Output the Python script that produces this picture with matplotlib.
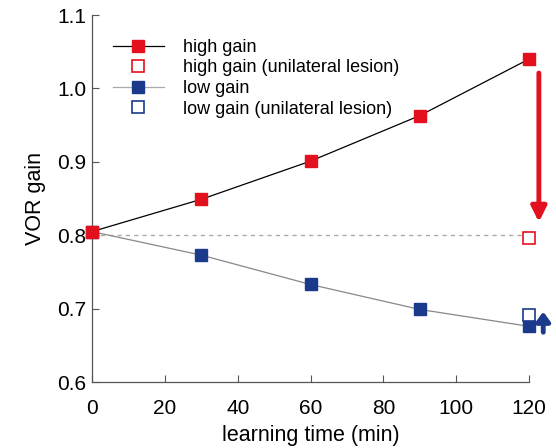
import numpy as np
import matplotlib.pyplot as plt
from matplotlib.lines import Line2D

plt.rcParams['font.family'] = ['Liberation Sans', 'DejaVu Sans']

# data
time = [0, 30, 60, 90, 120]
high_gain = [0.805, 0.849, 0.901, 0.963, 1.040]
low_gain = [0.805, 0.773, 0.733, 0.699, 0.676]
lesion_time = [120]
high_lesion = [0.796]
low_lesion = [0.692]
baseline = 0.8

red = '#e3101e'
blue = '#1b3a8c'
axcol = '#555555'
ms = 8.5

fig = plt.figure(figsize=(5.56, 4.48), dpi=100)
ax = fig.add_axes([0.1655, 0.147, 0.786, 0.8195])

ax.plot([0, 120], [baseline, baseline], color='#aaaaaa', lw=1, ls=(0, (3, 3)), zorder=1)
ax.plot(time, low_gain, color='#888888', lw=0.9, marker='s', ms=ms,
        mfc=blue, mec=blue, zorder=3, clip_on=False)
ax.plot(time, high_gain, color='black', lw=0.9, marker='s', ms=ms,
        mfc=red, mec=red, zorder=4, clip_on=False)
ax.plot(lesion_time, high_lesion, ls='none', marker='s', ms=ms, mfc='white',
        mec=red, mew=1.2, clip_on=False, zorder=5)
ax.plot(lesion_time, low_lesion, ls='none', marker='s', ms=ms, mfc='white',
        mec=blue, mew=1.2, clip_on=False, zorder=5)

# arrows beyond the right edge
ax.annotate('', xy=(122.7, 0.818), xytext=(122.7, 1.021),
            arrowprops=dict(arrowstyle='-|>,head_width=0.45,head_length=0.9',
                            color=red, lw=3.5, shrinkA=0, shrinkB=0),
            annotation_clip=False)
ax.annotate('', xy=(123.9, 0.696), xytext=(123.9, 0.668),
            arrowprops=dict(arrowstyle='-|>,head_width=0.4,head_length=0.55',
                            color=blue, lw=3.5, shrinkA=0, shrinkB=0),
            annotation_clip=False)

ax.set_xlim(0, 120)
ax.set_ylim(0.6, 1.1)
ax.set_xticks(np.arange(0, 121, 20))
ax.set_yticks(np.arange(0.6, 1.11, 0.1))
ax.set_yticklabels(['0.6', '0.7', '0.8', '0.9', '1.0', '1.1'])
ax.spines['top'].set_visible(False)
ax.spines['right'].set_visible(False)
for s in ['left', 'bottom']:
    ax.spines[s].set_color(axcol)
    ax.spines[s].set_linewidth(0.9)
ax.tick_params(direction='in', length=5, color=axcol, labelsize=15)
ax.tick_params(axis='x', pad=12)
ax.tick_params(axis='y', pad=4)
ax.set_xlabel('learning time (min)', fontsize=15.5, labelpad=5)
ax.set_ylabel('VOR gain', fontsize=15.5, labelpad=8)

handles = [
    Line2D([], [], color='black', lw=0.9, marker='s', ms=ms, mfc=red, mec=red),
    Line2D([], [], ls='none', marker='s', ms=ms, mfc='white', mec=red, mew=1.2),
    Line2D([], [], color='#aaaaaa', lw=0.9, marker='s', ms=ms, mfc=blue, mec=blue),
    Line2D([], [], ls='none', marker='s', ms=ms, mfc='white', mec=blue, mew=1.2),
]
labels = ['high gain', 'high gain (unilateral lesion)', 'low gain',
          'low gain (unilateral lesion)']
ax.legend(handles, labels, loc='upper left', bbox_to_anchor=(0.048, 0.935),
          frameon=False, fontsize=13, handlelength=2.8, handletextpad=1.05,
          labelspacing=0.2, borderpad=0, borderaxespad=0)

fig.savefig('out.png', dpi=100)
